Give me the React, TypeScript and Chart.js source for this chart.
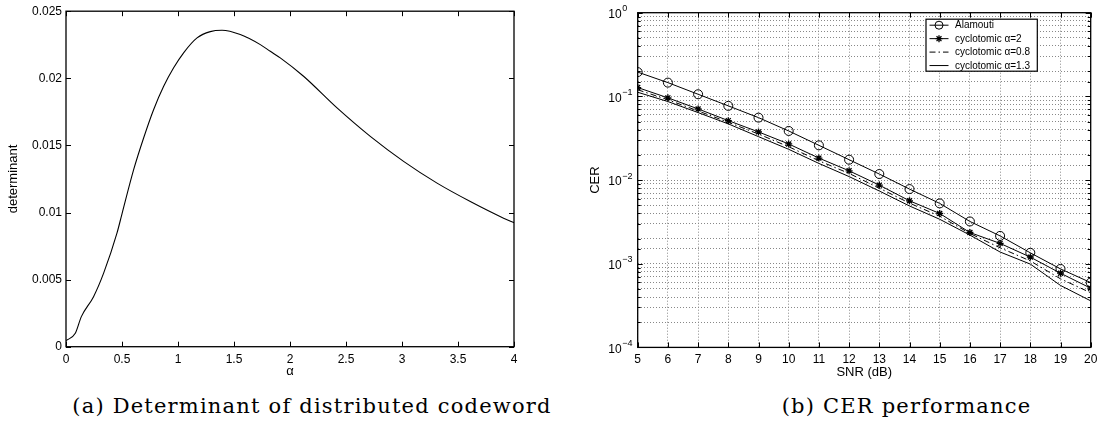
import React, { useEffect, useRef } from 'react';
import { Chart, registerables } from 'chart.js';

Chart.register(...registerables);

// ---------- (a) determinant vs alpha ----------
const alphaValues = [0, 0.083, 0.137, 0.246, 0.336, 0.455, 0.5, 0.604, 0.693, 0.782, 0.872, 0.961, 1.05, 1.17, 1.288, 1.393, 1.556, 1.735, 1.824, 1.913, 2.121, 2.42, 2.717, 3.014, 3.313, 3.61, 3.907, 4.0];
const determinantValues = [0.00045, 0.001, 0.00224, 0.00373, 0.00548, 0.00846, 0.0099, 0.01319, 0.01555, 0.01766, 0.0194, 0.02078, 0.0219, 0.02301, 0.02348, 0.02358, 0.02326, 0.02251, 0.02201, 0.02152, 0.02015, 0.01779, 0.01567, 0.01381, 0.01219, 0.01082, 0.00958, 0.00924];
const alphaTickLabels = ['0', '0.5', '1', '1.5', '2', '2.5', '3', '3.5', '4'];
const determinantTickLabels = ['0', '0.005', '0.01', '0.015', '0.02', '0.025'];

// ---------- (b) CER vs SNR ----------
const snrValues = [5, 6, 7, 8, 9, 10, 11, 12, 13, 14, 15, 16, 17, 18, 19, 20];
const snrTickLabels = ['5', '6', '7', '8', '9', '10', '11', '12', '13', '14', '15', '16', '17', '18', '19', '20'];
const alamoutiCER = [0.195, 0.146, 0.106, 0.077, 0.0557, 0.0386, 0.026, 0.0175, 0.0118, 0.0078, 0.00526, 0.0032, 0.00215, 0.00135, 0.000867, 0.000595];
const cyclotomic2CER = [0.1275, 0.096, 0.0708, 0.0513, 0.0376, 0.027, 0.0183, 0.0129, 0.0087, 0.00565, 0.00399, 0.00236, 0.00175, 0.0012, 0.00077, 0.00051];
const cyclotomic08CER = [0.12, 0.091, 0.067, 0.049, 0.0355, 0.025, 0.017, 0.012, 0.008, 0.0053, 0.0037, 0.0023, 0.00155, 0.00108, 0.00066, 0.00045];
const cyclotomic13CER = [0.112, 0.0867, 0.064, 0.0469, 0.033, 0.0233, 0.0158, 0.011, 0.0074, 0.0049, 0.0034, 0.0022, 0.00138, 0.00099, 0.00055, 0.00036];
const seriesLabels = ['Alamouti', 'cyclotomic α=2', 'cyclotomic α=0.8', 'cyclotomic α=1.3'];
const cerDecadeExponents = ['0', '−1', '−2', '−3', '−4'];

const captionA = '(a) Determinant of distributed codeword';
const captionB = '(b) CER performance';

const SANS = "'Liberation Sans', Arial, Helvetica, sans-serif";

function framePlugin(tickLen: number, minorLen: number, isLog: boolean) {
  return {
    id: 'frameTicks',
    afterDatasetsDraw(chart: any) {
      const { ctx, chartArea: a, scales } = chart;
      ctx.save();
      ctx.setLineDash([]);
      ctx.strokeStyle = '#000';
      ctx.lineWidth = 1;
      ctx.beginPath();
      for (const t of scales.x.ticks) {
        const px = Math.round(scales.x.getPixelForValue(t.value)) + 0.5;
        ctx.moveTo(px, a.bottom);
        ctx.lineTo(px, a.bottom - tickLen);
        ctx.moveTo(px, a.top);
        ctx.lineTo(px, a.top + tickLen);
      }
      for (const t of scales.y.ticks) {
        let major = true;
        if (isLog) {
          const l = Math.log10(t.value);
          major = Math.abs(l - Math.round(l)) < 1e-6;
        }
        const len = major ? tickLen : minorLen;
        const py = Math.round(scales.y.getPixelForValue(t.value)) + 0.5;
        ctx.moveTo(a.left, py);
        ctx.lineTo(a.left + len, py);
        ctx.moveTo(a.right, py);
        ctx.lineTo(a.right - len, py);
      }
      ctx.stroke();
      ctx.lineWidth = 1.3;
      ctx.strokeRect(a.left, a.top, a.right - a.left, a.bottom - a.top);
      ctx.restore();
    },
  };
}

const logLabelPlugin = {
  id: 'logLabels',
  afterDraw(chart: any) {
    const { ctx, chartArea: a, scales } = chart;
    const y = scales.y;
    ctx.save();
    ctx.fillStyle = '#000';
    for (const t of y.ticks) {
      const l = Math.log10(t.value);
      if (Math.abs(l - Math.round(l)) > 1e-6) continue;
      const idx = -Math.round(l);
      const py = y.getPixelForValue(t.value);
      const bx = a.left - 16;
      ctx.font = `12px ${SANS}`;
      ctx.textAlign = 'right';
      ctx.textBaseline = 'middle';
      ctx.fillText('10', bx, py + 2);
      ctx.font = `9px ${SANS}`;
      ctx.textAlign = 'left';
      ctx.fillText(cerDecadeExponents[idx], bx + 0.5, py - 4);
    }
    ctx.restore();
  },
};

const legendPlugin = {
  id: 'boxLegend',
  afterDraw(chart: any) {
    const { ctx, chartArea: a } = chart;
    const w = 111.3;
    const h = 52;
    const x0 = a.right - 53.4 - w;
    const y0 = a.top + 6.5;
    ctx.save();
    ctx.setLineDash([]);
    ctx.fillStyle = '#fff';
    ctx.fillRect(x0, y0, w, h);
    ctx.strokeStyle = '#000';
    ctx.lineWidth = 1.2;
    ctx.strokeRect(x0, y0, w, h);
    chart.data.datasets.forEach((ds: any, i: number) => {
      const ry = y0 + 6 + i * 13.45;
      ctx.strokeStyle = '#000';
      ctx.lineWidth = 1;
      ctx.setLineDash(ds.borderDash || []);
      ctx.beginPath();
      ctx.moveTo(x0 + 3.5, ry);
      ctx.lineTo(x0 + 22.5, ry);
      ctx.stroke();
      ctx.setLineDash([]);
      if (ds.pointRadius > 0) {
        ctx.lineWidth = ds.pointBorderWidth || 1;
        const cx = x0 + 13;
        const r = ds.pointRadius;
        ctx.beginPath();
        if (ds.pointStyle === 'circle') {
          ctx.arc(cx, ry, r - 0.5, 0, Math.PI * 2);
        } else {
          ctx.moveTo(cx - r, ry); ctx.lineTo(cx + r, ry);
          ctx.moveTo(cx, ry - r); ctx.lineTo(cx, ry + r);
          const d = r * 0.707;
          ctx.moveTo(cx - d, ry - d); ctx.lineTo(cx + d, ry + d);
          ctx.moveTo(cx - d, ry + d); ctx.lineTo(cx + d, ry - d);
        }
        ctx.stroke();
      }
      ctx.fillStyle = '#000';
      ctx.font = `10px ${SANS}`;
      ctx.textAlign = 'left';
      ctx.textBaseline = 'middle';
      ctx.fillText(ds.label, x0 + 29, ry + 0.5);
    });
    ctx.restore();
  },
};

function DeterminantChart() {
  const ref = useRef<HTMLCanvasElement>(null);
  useEffect(() => {
    const chart = new Chart(ref.current!, {
      type: 'scatter',
      data: {
        datasets: [
          {
            label: 'determinant',
            data: alphaValues.map((x, i) => ({ x, y: determinantValues[i] })),
            showLine: true,
            borderColor: '#000',
            borderWidth: 1.1,
            pointRadius: 0,
            cubicInterpolationMode: 'monotone',
          } as any,
        ],
      },
      options: {
        animation: false,
        responsive: false,
        devicePixelRatio: 1,
        layout: { padding: { top: 11, right: 26, left: 0, bottom: 0 } },
        plugins: { legend: { display: false }, tooltip: { enabled: false } },
        scales: {
          x: {
            type: 'linear',
            min: 0,
            max: 4,
            afterFit: (s: any) => { s.height = 38.3; },
            grid: { display: false, drawTicks: false },
            border: { display: false },
            ticks: {
              stepSize: 0.5,
              padding: 6,
              color: '#000',
              font: { family: SANS, size: 12 },
              callback: (_v: any, i: number) => alphaTickLabels[i],
            },
            title: { display: true, text: 'α', color: '#000', font: { family: SANS, size: 13 }, padding: { top: 0, bottom: 5.5 } },
          },
          y: {
            type: 'linear',
            min: 0,
            max: 0.025,
            afterFit: (s: any) => { s.width = 66; },
            grid: { display: false, drawTicks: false },
            border: { display: false },
            ticks: {
              stepSize: 0.005,
              padding: 4,
              color: '#000',
              font: { family: SANS, size: 12 },
              callback: (_v: any, i: number) => determinantTickLabels[i],
            },
            title: { display: true, text: 'determinant', color: '#000', font: { family: SANS, size: 13 }, padding: { top: 6, bottom: 0 } },
          },
        },
      },
      plugins: [framePlugin(5, 5, false)],
    } as any);
    return () => chart.destroy();
  }, []);
  return <canvas ref={ref} width={540} height={385} style={{ width: 540, height: 385, display: 'block' }} />;
}

function CERChart() {
  const ref = useRef<HTMLCanvasElement>(null);
  useEffect(() => {
    const mk = (vals: number[]) => snrValues.map((x, i) => ({ x, y: vals[i] }));
    const chart = new Chart(ref.current!, {
      type: 'scatter',
      data: {
        datasets: [
          {
            label: seriesLabels[0],
            data: mk(alamoutiCER),
            showLine: true,
            borderColor: '#000',
            borderWidth: 1,
            pointStyle: 'circle',
            pointRadius: 4.5,
            pointBorderWidth: 1,
            pointBorderColor: '#000',
            pointBackgroundColor: 'rgba(0,0,0,0)',
          },
          {
            label: seriesLabels[1],
            data: mk(cyclotomic2CER),
            showLine: true,
            borderColor: '#000',
            borderWidth: 1,
            pointStyle: 'star',
            pointRadius: 3.5,
            pointBorderWidth: 1.3,
            pointBorderColor: '#000',
            pointBackgroundColor: '#000',
          },
          {
            label: seriesLabels[2],
            data: mk(cyclotomic08CER),
            showLine: true,
            borderColor: '#000',
            borderWidth: 1,
            borderDash: [6, 3, 1.5, 3],
            pointRadius: 0,
          },
          {
            label: seriesLabels[3],
            data: mk(cyclotomic13CER),
            showLine: true,
            borderColor: '#000',
            borderWidth: 1,
            pointRadius: 0,
          },
        ],
      },
      options: {
        animation: false,
        responsive: false,
        devicePixelRatio: 1,
        layout: { padding: { top: 12.7, right: 14.3, left: 0, bottom: 0 } },
        plugins: { legend: { display: false }, tooltip: { enabled: false } },
        scales: {
          x: {
            type: 'linear',
            min: 5,
            max: 20,
            afterFit: (s: any) => { s.height = 37.6; },
            grid: { display: true, drawTicks: false, color: '#888', lineWidth: 1 },
            border: { display: false, dash: [1, 2] },
            ticks: {
              stepSize: 1,
              padding: 5,
              color: '#000',
              font: { family: SANS, size: 12 },
              callback: (_v: any, i: number) => snrTickLabels[i],
            },
            title: { display: true, text: 'SNR (dB)', color: '#000', font: { family: SANS, size: 13 }, padding: { top: 0, bottom: 4.5 } },
          },
          y: {
            type: 'logarithmic',
            min: 0.0001,
            max: 1,
            afterFit: (s: any) => { s.width = 87.7; },
            grid: { display: true, drawTicks: false, color: '#888', lineWidth: 1 },
            border: { display: false, dash: [1, 2] },
            ticks: { display: false, autoSkip: false },
            title: { display: true, text: 'CER', color: '#000', font: { family: SANS, size: 13 }, padding: { top: 38, bottom: 0 } },
          },
        },
      },
      plugins: [framePlugin(5, 3, true), logLabelPlugin, legendPlugin],
    } as any);
    return () => chart.destroy();
  }, []);
  return <canvas ref={ref} width={555} height={385} style={{ width: 555, height: 385, display: 'block' }} />;
}

const captionStyle: React.CSSProperties = {
  position: 'absolute',
  width: 600,
  textAlign: 'center',
  fontFamily: "'DejaVu Serif', 'Liberation Serif', serif",
  fontSize: 21,
  lineHeight: '21px',
  letterSpacing: 1.2,
  color: '#000',
  whiteSpace: 'nowrap',
};

export default function App() {
  return (
    <div style={{ position: 'fixed', left: 0, top: 0, width: 1105, height: 424, background: '#fff', overflow: 'hidden' }}>
      <div style={{ position: 'absolute', left: 0, top: 0 }}>
        <DeterminantChart />
      </div>
      <div style={{ position: 'absolute', left: 550, top: 0 }}>
        <CERChart />
      </div>
      <div style={{ ...captionStyle, left: 312 - 300, top: 395.5 }}>{captionA}</div>
      <div style={{ ...captionStyle, left: 906.5 - 300, top: 395.5 }}>{captionB}</div>
    </div>
  );
}
